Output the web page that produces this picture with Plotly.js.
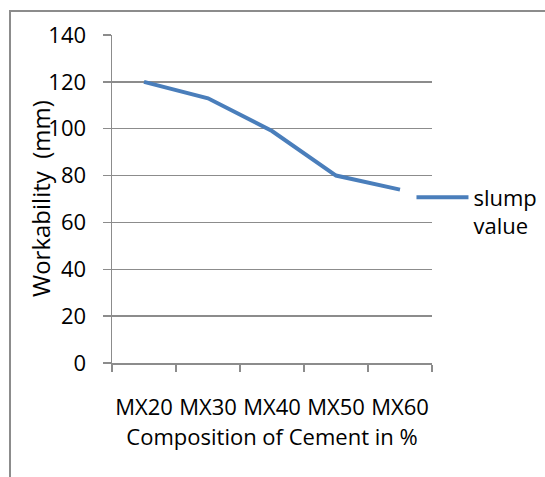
<!DOCTYPE html>
<html>
<head>
<meta charset="utf-8">
<script src="https://cdn.plot.ly/plotly-3.0.1.min.js"></script>
<style>
html,body{margin:0;padding:0;background:#fff;}
#frame{position:absolute;left:9px;top:10px;width:540px;height:470px;border-left:2px solid #8c8c8c;border-top:2px solid #8c8c8c;}
#chart{position:absolute;left:0;top:0;width:545px;height:477px;}
</style>
</head>
<body>
<div id="frame"></div>
<div id="chart"></div>
<script>
const categories = ["MX20", "MX30", "MX40", "MX50", "MX60"];
const slumpValues = [120, 113, 99, 80, 74];
const seriesName = "slump<br>value";
const yTicks = [0, 20, 40, 60, 80, 100, 120, 140];
const xTitle = "Composition of Cement in %";
const yTitle = "Workability  (mm)";

const FONT = "Open Sans, sans-serif";
const grey = "#8c8c8c";

const trace = {
  x: categories,
  y: slumpValues,
  type: "scatter",
  mode: "lines",
  name: seriesName,
  line: {color: "#4a7ebb", width: 4}
};

const layout = {
  width: 545,
  height: 477,
  margin: {l: 112, r: 113, t: 35, b: 114, autoexpand: false},
  paper_bgcolor: "rgba(0,0,0,0)",
  plot_bgcolor: "rgba(0,0,0,0)",
  font: {family: FONT, size: 22, color: "#000"},
  showlegend: true,
  legend: {
    xref: "container", yref: "container",
    x: 0.755, xanchor: "left", y: 0.63, yanchor: "top",
    valign: "top",
    font: {family: FONT, size: 22, color: "#000"},
    itemwidth: 52,
    bgcolor: "rgba(0,0,0,0)"
  },
  xaxis: {
    type: "category",
    range: [-0.5, 4.5],
    showgrid: false,
    showline: true,
    linecolor: grey,
    linewidth: 1.5,
    ticks: "outside",
    tickson: "boundaries",
    ticklen: 7,
    tickcolor: grey,
    tickwidth: 1.5,
    tickangle: 0,
    ticklabelstandoff: 24,
    tickfont: {family: FONT, size: 22},
    title: {text: xTitle, font: {family: FONT, size: 22}, standoff: 8},
    automargin: false,
    fixedrange: true
  },
  yaxis: {
    range: [0, 140],
    tickvals: yTicks,
    showgrid: true,
    gridcolor: grey,
    gridwidth: 1.5,
    zeroline: false,
    showline: true,
    linecolor: grey,
    linewidth: 1.5,
    ticks: "outside",
    ticklen: 8,
    tickcolor: grey,
    tickwidth: 1.5,
    ticklabelstandoff: 12,
    tickfont: {family: FONT, size: 22},
    automargin: false,
    fixedrange: true
  },
  annotations: [{
    text: yTitle,
    xref: "paper", yref: "paper",
    x: -0.225, y: 0.5, xanchor: "center", yanchor: "middle",
    textangle: -90,
    showarrow: false,
    font: {family: FONT, size: 24, color: "#000"}
  }]
};

Plotly.newPlot("chart", [trace], layout, {displayModeBar: false, staticPlot: true});
</script>
</body>
</html>
